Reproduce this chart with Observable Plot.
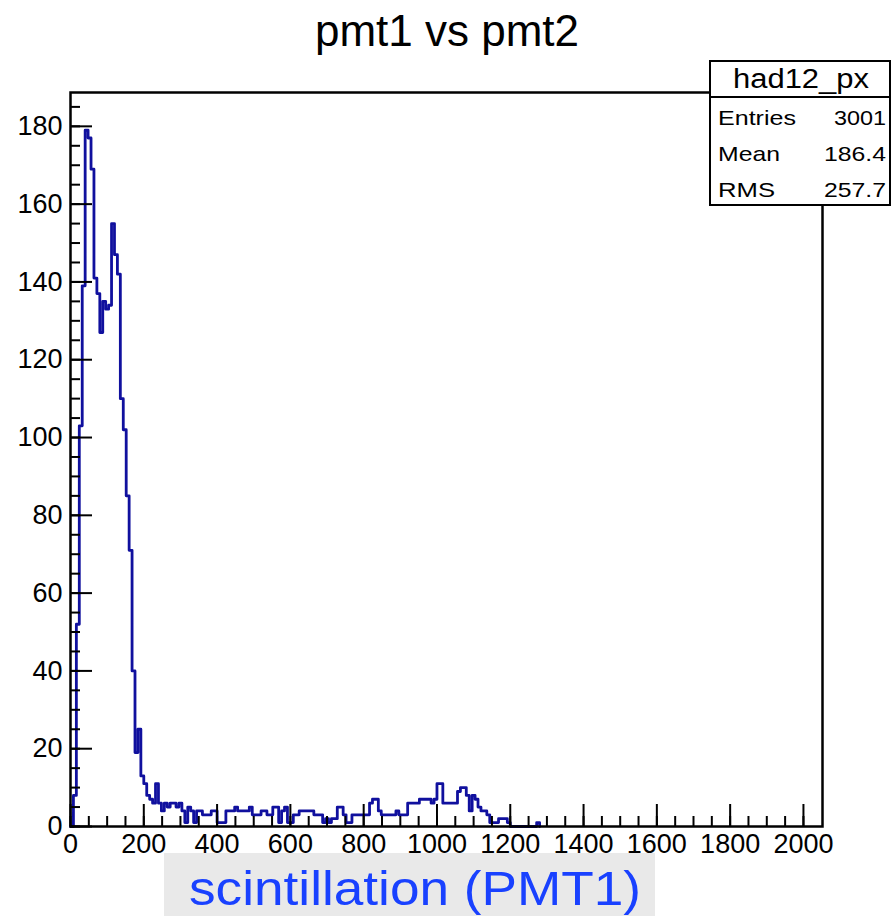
<!DOCTYPE html>
<html><head><meta charset="utf-8">
<script src="https://cdn.jsdelivr.net/npm/d3@7"></script>
<script src="https://cdn.jsdelivr.net/npm/@observablehq/plot@0.6"></script>
<style>
body{margin:0;background:#fff;}
#wrap{position:relative;width:892px;height:916px;overflow:hidden;background:#fff;}
#wrap svg{position:absolute;left:0;top:0;}
</style></head><body><div id="wrap"></div>
<script>
const title = "pmt1 vs pmt2";
const xLabel = "scintillation (PMT1)";
const histName = "had12_px";
const statNames = ["Entries", "Mean", "RMS"];
const statValues = ["3001", "186.4", "257.7"];
const binWidth = 8;
const xDomain = [0, 2052];
const yDomain = [0, 188.7];
// bin counts, bin i covers [i*8, i*8+8)
const counts = [
  0, 8, 52, 103, 139, 179, 177, 169, 141, 137,
  127, 135, 133, 134, 155, 147, 142, 110, 102, 85,
  71, 40, 19, 25, 13, 11, 8, 7, 6, 11,
  6, 4, 6, 5, 6, 6, 5, 6, 4, 1,
  5, 4, 1, 4, 4, 3, 3, 3, 4, 4,
  1, 1, 1, 4, 4, 4, 5, 4, 4, 4,
  4, 5, 3, 3, 3, 4, 4, 3, 3, 5,
  5, 1, 4, 5, 1, 1, 3, 3, 4, 4,
  4, 4, 4, 3, 3, 3, 1, 2, 1, 2,
  2, 5, 5, 3, 1, 1, 3, 3, 3, 3,
  3, 3, 6, 7, 7, 4, 3, 3, 3, 3,
  3, 4, 3, 3, 3, 6, 6, 6, 6, 7,
  7, 7, 7, 6, 7, 11, 11, 6, 6, 6,
  6, 6, 9, 10, 10, 8, 4, 8, 7, 5,
  4, 4, 3, 1, 1, 1, 2, 2, 2, 1,
  0, 0, 0, 0, 0, 0, 0, 0, 0, 1
];
const xMajorTicks = [0, 200, 400, 600, 800, 1000, 1200, 1400, 1600, 1800, 2000];
const xMinorTicks = d3.range(0, 2001, 50);
const yMajorTicks = [0, 20, 40, 60, 80, 100, 120, 140, 160, 180];
const yMinorTicks = d3.range(0, 186, 5);

const histColor = "#10109e";
const font = "'Liberation Sans', Arial, Helvetica, sans-serif";

const points = counts.map((c, i) => ({x: i * binWidth, y: c}));
points.push({x: counts.length * binWidth, y: 0});

const chart = Plot.plot({
  width: 892, height: 916,
  marginLeft: 70, marginRight: 70, marginTop: 92, marginBottom: 90,
  style: {fontFamily: font, background: "transparent", color: "black"},
  x: {domain: xDomain},
  y: {domain: yDomain},
  marks: [
    Plot.lineY(points, {x: "x", y: "y", curve: "step-after", stroke: histColor, strokeWidth: 2.8}),
    Plot.axisX(xMinorTicks, {tickSize: -10, tickFormat: () => "", strokeWidth: 2, label: null}),
    Plot.axisX(xMajorTicks, {tickSize: -22, tickPadding: 29, fontSize: 27, strokeWidth: 2, label: null, fill: "black", tickFormat: d => String(d)}),
    Plot.axisY(yMinorTicks, {tickSize: -10, tickFormat: () => "", strokeWidth: 2, label: null}),
    Plot.axisY(yMajorTicks, {tickSize: -22, tickPadding: 30, fontSize: 27, strokeWidth: 2, label: null, fill: "black", tickFormat: d => String(d)}),
    Plot.frame({stroke: "black", strokeWidth: 2.5})
  ]
});
document.getElementById("wrap").appendChild(chart);

// overlay: title, stats box, axis title
const ov = d3.select("#wrap").append("svg")
  .attr("width", 892).attr("height", 916)
  .style("font-family", font);
ov.append("text").attr("x", 447).attr("y", 46).attr("text-anchor", "middle")
  .attr("font-size", 44).attr("fill", "black").text(title);

const box = ov.append("g");
box.append("rect").attr("x", 710).attr("y", 61).attr("width", 180).attr("height", 144)
  .attr("fill", "white").attr("stroke", "black").attr("stroke-width", 2);
box.append("line").attr("x1", 710).attr("x2", 890).attr("y1", 97).attr("y2", 97)
  .attr("stroke", "black").attr("stroke-width", 2);
box.append("text").attr("x", 801).attr("y", 88).attr("text-anchor", "middle")
  .attr("font-size", 27).attr("textLength", 136).attr("lengthAdjust", "spacingAndGlyphs").text(histName);
const rowBase = [125, 161, 197];
const nameLen = [78, 62, 57];
const valLen = [52, 62, 62];
statNames.forEach((n, i) => {
  box.append("text").attr("x", 718).attr("y", rowBase[i]).attr("font-size", 21)
    .attr("textLength", nameLen[i]).attr("lengthAdjust", "spacingAndGlyphs").text(n);
  box.append("text").attr("x", 886).attr("y", rowBase[i]).attr("font-size", 21).attr("text-anchor", "end")
    .attr("textLength", valLen[i]).attr("lengthAdjust", "spacingAndGlyphs").text(statValues[i]);
});

ov.append("rect").attr("x", 164).attr("y", 853).attr("width", 491).attr("height", 63).attr("fill", "#e9e9e9");
ov.append("text").attr("x", 189).attr("y", 905).attr("font-size", 48).attr("fill", "#1941ff")
  .attr("textLength", 452).attr("lengthAdjust", "spacingAndGlyphs").text(xLabel);
</script></body></html>
